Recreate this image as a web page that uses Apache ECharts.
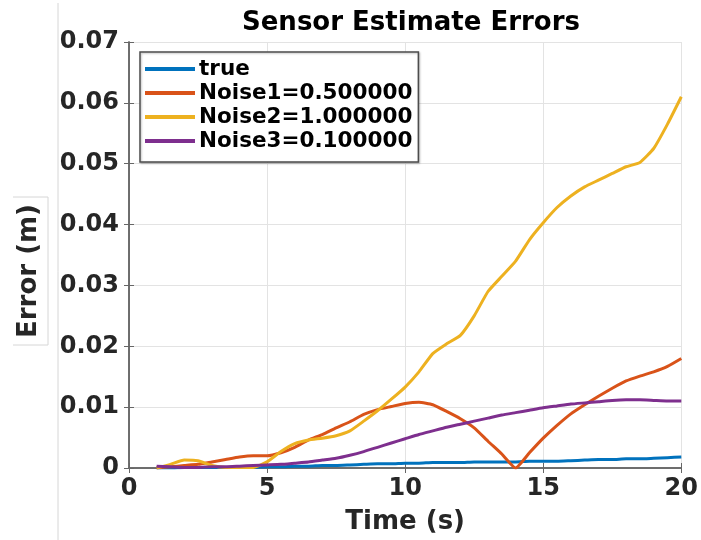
<!DOCTYPE html>
<html>
<head>
<meta charset="utf-8">
<script src="https://cdn.jsdelivr.net/npm/echarts@6/dist/echarts.min.js"></script>
<style>
  html, body { margin: 0; padding: 0; background: #fff; }
  #chart { width: 701px; height: 540px; }
</style>
</head>
<body>
<div id="chart"></div>
<script>
// Sample times (s)
const time = [1, 1.5, 2, 2.5, 3, 3.5, 4, 4.5, 5, 5.5, 6, 6.5, 7, 7.5, 8, 8.5, 9, 9.5, 10, 10.5,
  11, 11.5, 12, 12.5, 13, 13.5, 14, 14.5, 15, 15.5, 16, 16.5, 17, 17.5, 18, 18.5, 19, 19.5, 20];

// Estimate error (m) for each run
const errTrue = [0, 0, 0.0001, 0.0001, 0.0001, 0.0001, 0.0001, 0.0001, 0.0002, 0.0002, 0.0003, 0.0003, 0.0004, 0.0004, 0.0005, 0.0006, 0.0007, 0.0007, 0.0008, 0.0008,
  0.0009, 0.0009, 0.0009, 0.0010, 0.0010, 0.0010, 0.0010, 0.0011, 0.0011, 0.0011, 0.0012, 0.0013, 0.0014, 0.0014, 0.0015, 0.0015, 0.0016, 0.0017, 0.0018];
const errNoise1 = [0, 0.0002, 0.0004, 0.0006, 0.0010, 0.0014, 0.0018, 0.0020, 0.0020, 0.0025, 0.0034, 0.0046, 0.0055, 0.0066, 0.0076, 0.0088, 0.0096, 0.0101, 0.0106, 0.0108,
  0.0104, 0.0093, 0.0081, 0.0066, 0.0044, 0.0023, 0.0000, 0.0025, 0.0049, 0.0070, 0.0089, 0.0104, 0.0118, 0.0131, 0.0143, 0.0151, 0.0158, 0.0167, 0.0180];
const errNoise2 = [0, 0.0006, 0.0013, 0.0012, 0.0004, 0.0001, 0.0001, 0.0001, 0.0010, 0.0027, 0.0040, 0.0046, 0.0049, 0.0053, 0.0061, 0.0077, 0.0094, 0.0113, 0.0133, 0.0158,
  0.0188, 0.0204, 0.0218, 0.0250, 0.0290, 0.0315, 0.0340, 0.0375, 0.0403, 0.0428, 0.0447, 0.0462, 0.0473, 0.0484, 0.0495, 0.0502, 0.0525, 0.0565, 0.0610];
const errNoise3 = [0.0003, 0.0002, 0.0001, 0.0001, 0.0002, 0.0002, 0.0003, 0.0004, 0.0005, 0.0006, 0.0008, 0.0010, 0.0013, 0.0016, 0.0021, 0.0027, 0.0034, 0.0041, 0.0048, 0.0055,
  0.0061, 0.0067, 0.0072, 0.0077, 0.0082, 0.0087, 0.0091, 0.0095, 0.0099, 0.0102, 0.0105, 0.0107, 0.0109, 0.0111, 0.0112, 0.0112, 0.0111, 0.0110, 0.0110];

const seriesNames = ['true', 'Noise1=0.500000', 'Noise2=1.000000', 'Noise3=0.100000'];
const seriesValues = [errTrue, errNoise1, errNoise2, errNoise3];
const colors = ['#0072BD', '#D95319', '#EDB120', '#7E2F8E'];

const xTicks = [0, 5, 10, 15, 20];
const yTicks = [0, 0.01, 0.02, 0.03, 0.04, 0.05, 0.06, 0.07];

const FONT = '"DejaVu Sans", sans-serif';
const AXIS_COLOR = '#666666';
const TEXT_COLOR = '#262626';

const chart = echarts.init(document.getElementById('chart'), null, { renderer: 'canvas' });

const pairs = (vals) => time.map((t, i) => [t, vals[i]]);

const option = {
  backgroundColor: '#ffffff',
  animation: false,
  color: colors,
  title: {
    text: 'Sensor Estimate Errors',
    left: 406,
    textAlign: 'center',
    top: 5,
    textStyle: { fontFamily: FONT, fontWeight: 'bold', fontSize: 26, color: '#000' }
  },
  grid: { left: 129, right: 18, top: 42, bottom: 72 },
  legend: {
    data: seriesNames,
    orient: 'vertical',
    left: 140,
    top: 52,
    padding: [5, 6, 9, 5],
    itemGap: 0,
    itemWidth: 50,
    itemHeight: 4,
    icon: 'rect',
    backgroundColor: '#ffffff',
    borderColor: '#4d4d4d',
    borderWidth: 1.5,
    shadowColor: 'rgba(0,0,0,0.25)',
    shadowBlur: 2,
    shadowOffsetX: 1,
    shadowOffsetY: 1,
    textStyle: { fontFamily: FONT, fontWeight: 'bold', fontSize: 21.5, color: '#000', lineHeight: 24, padding: [0, 0, 0, -1] }
  },
  xAxis: [{
    type: 'value',
    min: xTicks[0],
    max: xTicks[xTicks.length - 1],
    interval: 5,
    name: 'Time (s)',
    nameLocation: 'middle',
    nameGap: 41,
    nameTextStyle: { fontFamily: FONT, fontWeight: 'bold', fontSize: 26, color: TEXT_COLOR },
    axisLine: { show: true, lineStyle: { color: AXIS_COLOR, width: 1.5 } },
    axisTick: { show: true, inside: true, length: 5, lineStyle: { color: AXIS_COLOR } },
    axisLabel: { fontFamily: FONT, fontWeight: 'bold', fontSize: 24, color: TEXT_COLOR, margin: 9 },
    splitLine: { show: true, lineStyle: { color: '#e3e3e3', width: 1 } }
  }, {
    type: 'value',
    position: 'top',
    min: xTicks[0],
    max: xTicks[xTicks.length - 1],
    interval: 5,
    axisLine: { show: true, lineStyle: { color: AXIS_COLOR, width: 1.5 } },
    axisTick: { show: true, inside: true, length: 5, lineStyle: { color: AXIS_COLOR } },
    axisLabel: { show: false },
    splitLine: { show: false }
  }],
  yAxis: [{
    type: 'value',
    min: yTicks[0],
    max: yTicks[yTicks.length - 1],
    interval: 0.01,
    name: 'Error (m)',
    nameLocation: 'middle',
    nameGap: 87,
    nameTextStyle: { fontFamily: FONT, fontWeight: 'bold', fontSize: 26, color: TEXT_COLOR, padding: [0, 32, 0, 0] },
    axisLine: { show: true, lineStyle: { color: AXIS_COLOR, width: 1.5 } },
    axisTick: { show: true, inside: true, length: 5, lineStyle: { color: AXIS_COLOR } },
    axisLabel: {
      fontFamily: FONT, fontWeight: 'bold', fontSize: 24, color: TEXT_COLOR, margin: 10,
      formatter: (v) => (v === 0 ? '0' : v.toFixed(2))
    },
    splitLine: { show: true, lineStyle: { color: '#e3e3e3', width: 1 } }
  }, {
    type: 'value',
    position: 'right',
    min: yTicks[0],
    max: yTicks[yTicks.length - 1],
    interval: 0.01,
    axisLine: { show: true, lineStyle: { color: AXIS_COLOR, width: 1.5 } },
    axisTick: { show: true, inside: true, length: 5, lineStyle: { color: AXIS_COLOR } },
    axisLabel: { show: false },
    splitLine: { show: false }
  }],
  graphic: [
    // thin divider on the left of the figure
    { type: 'line', shape: { x1: 58, y1: 3, x2: 58, y2: 540 }, style: { stroke: '#d6d6d6', lineWidth: 1 }, silent: true },
    // frame around the y-axis title
    { type: 'polyline', shape: { points: [[13, 197], [48, 197], [48, 345], [13, 345]] }, style: { stroke: '#d6d6d6', lineWidth: 1, fill: null }, silent: true }
  ],
  series: seriesNames.map((name, i) => ({
    name: name,
    type: 'line',
    data: pairs(seriesValues[i]),
    showSymbol: false,
    smooth: 0.15,
    lineStyle: { width: 3, color: colors[i] },
    itemStyle: { color: colors[i] },
    z: 2 + (i === 3 ? 1 : 0)
  }))
};

chart.setOption(option);
</script>
</body>
</html>
